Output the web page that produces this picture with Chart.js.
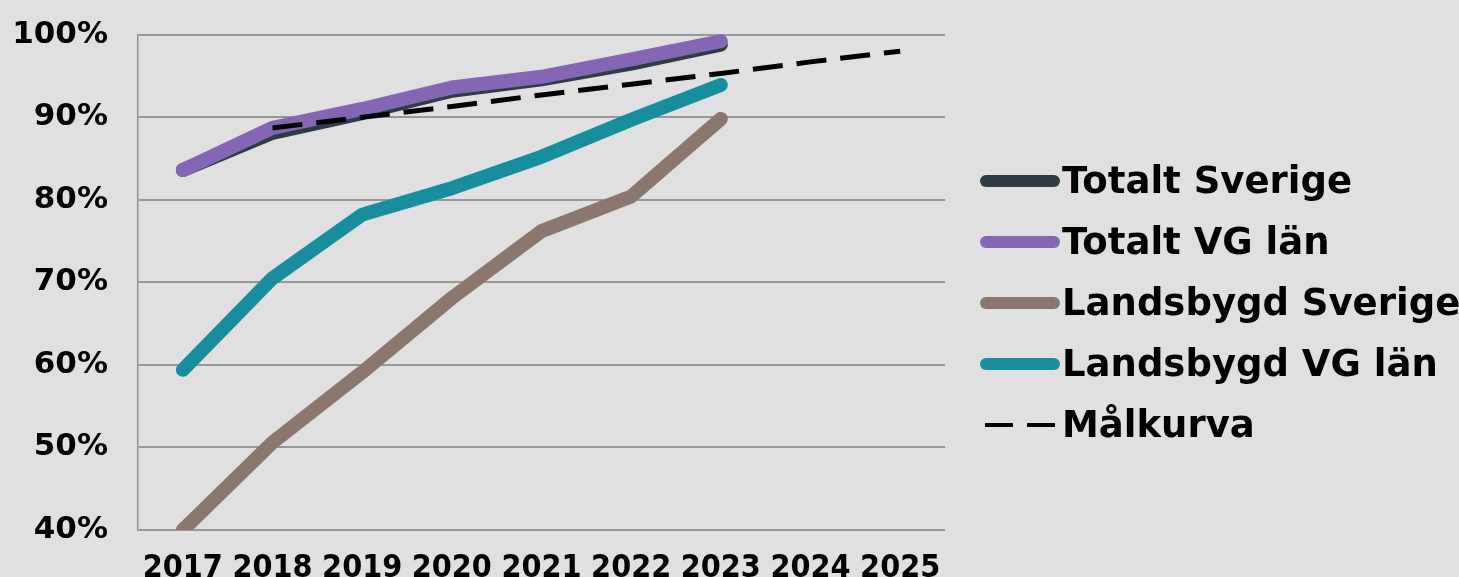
<!DOCTYPE html>
<html>
<head>
<meta charset="utf-8">
<script src="https://cdn.jsdelivr.net/npm/chart.js"></script>
<style>
    html, body {
        margin: 0;
        padding: 0;
        background: #e0e0e0;
        overflow: hidden;
    }
    .wrap {
        position: relative;
        width: 1459px;
        height: 577px;
        overflow: hidden;
    }
    #chart {
        position: absolute;
        left: 0;
        top: 0;
    }
    .legend {
        position: absolute;
        left: 980px;
        top: 150px;
        font-family: "DejaVu Sans", Verdana, sans-serif;
        font-weight: bold;
        font-size: 37px;
        color: #000;
    }
    .legend-item {
        display: flex;
        align-items: center;
        height: 61px;
        white-space: nowrap;
    }
    .sample {
        width: 80px;
        height: 12px;
        border-radius: 6px;
        margin-right: 2px;
        flex: none;
    }
    .sample.dashed {
        display: flex;
        justify-content: space-between;
        width: 70px;
        height: 4px;
        margin-left: 5px;
        margin-right: 7px;
        border-radius: 0;
    }
    .sample.dashed span {
        width: 28px;
        height: 4px;
        background: #000;
    }
</style>
</head>
<body>
<div class="wrap">
    <canvas id="chart" width="1459" height="577"></canvas>
    <div class="legend" id="legend"></div>
</div>

<script>
    // Years on the x axis
    const years = ['2017', '2018', '2019', '2020', '2021', '2022', '2023', '2024', '2025'];

    // Share of households with fast broadband (%)
    const totaltSverige = [83.6, 88.1, 90.5, 93.2, 94.6, 96.5, 98.8, null, null];
    const totaltVG = [83.6, 88.7, 91.0, 93.6, 94.9, 97.0, 99.2, null, null];
    const landsbygdSverige = [40.0, 50.6, 59.1, 68.1, 76.2, 80.4, 89.8, null, null];
    const landsbygdVG = [59.4, 70.5, 78.2, 81.4, 85.2, 89.7, 93.9, null, null];
    const malkurva = [null, 88.7, 90.0, 91.3, 92.7, 94.0, 95.3, 96.7, 98.0];

    const seriesNames = ['Totalt Sverige', 'Totalt VG län', 'Landsbygd Sverige', 'Landsbygd VG län', 'Målkurva'];
    const seriesColors = ['#2e3d45', '#8466b4', '#8c776e', '#178d9d', '#000000'];

    const clipArea = { left: 20, right: 20, top: 20, bottom: 0 };

    function solidLine(i, data, order) {
        return {
            label: seriesNames[i],
            data: data,
            borderColor: seriesColors[i],
            backgroundColor: seriesColors[i],
            borderWidth: 14,
            borderCapStyle: 'round',
            borderJoinStyle: 'round',
            pointRadius: 0,
            tension: 0,
            clip: clipArea,
            order: order
        };
    }

    const chart = new Chart(document.getElementById('chart'), {
        type: 'line',
        data: {
            labels: years,
            datasets: [
                solidLine(0, totaltSverige, 2),
                solidLine(1, totaltVG, 1),
                solidLine(2, landsbygdSverige, 4),
                solidLine(3, landsbygdVG, 3),
                {
                    label: seriesNames[4],
                    data: malkurva,
                    borderColor: seriesColors[4],
                    borderWidth: 5,
                    borderDash: [30, 14],
                    pointRadius: 0,
                    tension: 0,
                    clip: clipArea,
                    order: 0
                }
            ]
        },
        options: {
            responsive: false,
            animation: false,
            layout: { padding: { top: 10, left: 0, right: 514, bottom: 0 } },
            plugins: {
                legend: { display: false },
                tooltip: { enabled: false }
            },
            scales: {
                x: {
                    offset: true,
                    grid: { display: false, drawTicks: false },
                    border: { display: false },
                    ticks: {
                        color: '#000',
                        padding: 19,
                        maxRotation: 0,
                        autoSkip: false,
                        font: { family: '"DejaVu Sans Condensed", "DejaVu Sans", sans-serif', weight: 'bold', size: 32 }
                    },
                    afterFit: (scale) => { scale.height = 47; }
                },
                y: {
                    min: 40,
                    max: 100,
                    grid: { color: '#979797', lineWidth: 2, drawTicks: false },
                    border: { display: true, color: '#8f8f8f', width: 1.5 },
                    ticks: {
                        stepSize: 10,
                        color: '#000',
                        padding: 30,
                        // small lineHeight keeps the top of the plot at the 100% line of the original
                        font: { family: '"DejaVu Sans", sans-serif', weight: 'bold', size: 31, lineHeight: 0.3 },
                        callback: (v) => v + '%'
                    },
                    afterFit: (scale) => { scale.width = 138; }
                }
            }
        }
    });

    // HTML legend on the right
    const legend = document.getElementById('legend');
    seriesNames.forEach((name, i) => {
        const item = document.createElement('div');
        item.className = 'legend-item';
        const sample = document.createElement('div');
        if (i === 4) {
            sample.className = 'sample dashed';
            sample.innerHTML = '<span></span><span></span>';
        } else {
            sample.className = 'sample';
            sample.style.background = seriesColors[i];
        }
        const text = document.createElement('span');
        text.textContent = name;
        item.appendChild(sample);
        item.appendChild(text);
        legend.appendChild(item);
    });
</script>
</body>
</html>
